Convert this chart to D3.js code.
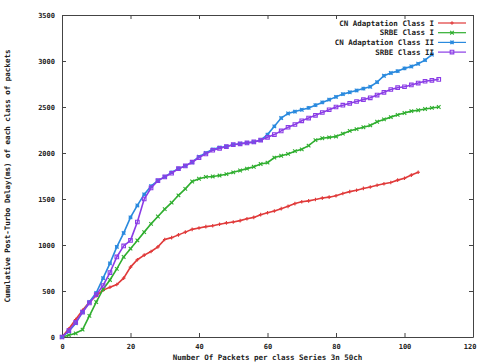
<!DOCTYPE html>
<html>
<head>
<meta charset="utf-8">
<script src="https://cdn.jsdelivr.net/npm/d3@7"></script>
<style>
  body { margin: 0; background: #fff; }
  text { font-family: "DejaVu Sans Mono", monospace; font-weight: bold; fill: #222; }
</style>
</head>
<body>
<div id="chart"></div>
<script>
// series: [x, y] pairs
const seriesNames = ['CN Adaptation Class I', 'SRBE Class I', 'CN Adaptation Class II', 'SRBE Class II'];
const seriesColors = ['#e03a3a', '#2fae2f', '#2a8ade', '#8a3ce6'];
const seriesMarkers = ['plus', 'cross', 'star', 'square'];

const xRed = d3.range(0, 105, 2);
const yRed = [0, 90, 190, 290, 380, 450, 510, 540, 570, 640, 760, 840, 890, 930, 980, 1060, 1080, 1110, 1140, 1170,
  1185, 1200, 1210, 1225, 1240, 1250, 1265, 1285, 1300, 1330, 1350, 1370, 1395, 1420, 1450, 1470, 1480, 1495, 1510,
  1520, 1535, 1560, 1580, 1595, 1615, 1630, 1650, 1665, 1680, 1705, 1725, 1760, 1790];

const xGreen = d3.range(0, 111, 2);
const yGreen = [0, 20, 40, 80, 230, 380, 520, 620, 740, 870, 960, 1050, 1140, 1230, 1310, 1390, 1460, 1540, 1610, 1690,
  1720, 1740, 1745, 1755, 1770, 1790, 1810, 1830, 1850, 1880, 1895, 1950, 1970, 1990, 2020, 2040, 2080, 2140, 2160,
  2170, 2180, 2210, 2240, 2260, 2280, 2300, 2340, 2365, 2390, 2415, 2435, 2455, 2465, 2478, 2490, 2500];

const xBlue = d3.range(0, 109, 2);
const yBlue = [0, 60, 150, 270, 380, 480, 640, 800, 980, 1130, 1300, 1430, 1550, 1640, 1700, 1740, 1790, 1830, 1860, 1900,
  1960, 2000, 2040, 2060, 2070, 2090, 2100, 2110, 2120, 2140, 2200, 2290, 2380, 2430, 2450, 2470, 2490, 2520, 2550,
  2580, 2610, 2640, 2660, 2680, 2700, 2720, 2770, 2840, 2870, 2890, 2920, 2940, 2970, 3010, 3070];

const xPurple = d3.range(0, 111, 2);
const yPurple = [0, 70, 160, 270, 370, 460, 560, 700, 870, 990, 1050, 1250, 1500, 1620, 1700, 1740, 1780, 1830, 1860, 1900,
  1950, 1990, 2030, 2050, 2070, 2090, 2100, 2110, 2120, 2140, 2170, 2200, 2240, 2280, 2310, 2350, 2380, 2410, 2440,
  2470, 2500, 2520, 2540, 2560, 2580, 2600, 2630, 2660, 2690, 2710, 2720, 2740, 2760, 2780, 2790, 2800];

const xTicks = [0, 20, 40, 60, 80, 100, 120];
const yTicks = [0, 500, 1000, 1500, 2000, 2500, 3000, 3500];

const xLabel = 'Number Of Packets per class Series 3n 50ch';
const yLabel = 'Cumulative Post-Turbo Delay(ms) of each class of packets';

const W = 477, H = 363;
const margin = { left: 62, right: 4, top: 15, bottom: 26 };

const svg = d3.select('#chart').append('svg')
    .attr('width', W).attr('height', H);

const x = d3.scaleLinear().domain([0, 120]).range([margin.left, W - margin.right]);
const y = d3.scaleLinear().domain([0, 3500]).range([H - margin.bottom, margin.top]);

// axes, gnuplot style: inward ticks, mirrored
const fmt = d3.format('d');
const xAxisG = svg.append('g').attr('transform', 'translate(0,' + y(0) + ')')
    .call(d3.axisBottom(x).tickValues(xTicks).tickFormat(fmt).tickSizeInner(-4).tickSizeOuter(0).tickPadding(7));
svg.append('g').attr('transform', 'translate(' + x(0) + ',0)')
    .call(d3.axisLeft(y).tickValues(yTicks).tickFormat(fmt).tickSizeInner(-4).tickSizeOuter(0).tickPadding(7));
svg.append('g').attr('transform', 'translate(0,' + y(3500) + ')')
    .call(d3.axisTop(x).tickValues(xTicks).tickFormat('').tickSizeInner(-4).tickSizeOuter(0));
svg.append('g').attr('transform', 'translate(' + x(120) + ',0)')
    .call(d3.axisRight(y).tickValues(yTicks).tickFormat('').tickSizeInner(-4).tickSizeOuter(0));

svg.selectAll('.domain').attr('stroke', '#444');
svg.selectAll('.tick line').attr('stroke', '#444');
svg.selectAll('.tick text').style('font-size', '7px').attr('fill', '#222');
// last x label sits at the window edge
xAxisG.selectAll('.tick text').filter(d => d === 120).attr('text-anchor', 'end').attr('dx', '3');

svg.append('text')
    .attr('x', (x(0) + x(120)) / 2).attr('y', H - 3)
    .attr('text-anchor', 'middle').style('font-size', '7.5px')
    .text(xLabel);
svg.append('text')
    .attr('transform', 'translate(10,' + ((y(0) + y(3500)) / 2) + ') rotate(-90)')
    .attr('text-anchor', 'middle').style('font-size', '7.5px')
    .text(yLabel);

function markerPath(kind, s) {
  if (kind === 'plus') return `M${-s},0H${s}M0,${-s}V${s}`;
  if (kind === 'cross') return `M${-s},${-s}L${s},${s}M${-s},${s}L${s},${-s}`;
  if (kind === 'star') return `M${-s},0H${s}M0,${-s}V${s}M${-s},${-s}L${s},${s}M${-s},${s}L${s},${-s}`;
  return `M${-s},${-s}H${s}V${s}H${-s}Z`;
}

const allSeries = [
  d3.zip(xRed, yRed),
  d3.zip(xGreen, yGreen),
  d3.zip(xBlue, yBlue),
  d3.zip(xPurple, yPurple)
];

const line = d3.line().x(d => x(d[0])).y(d => y(d[1]));
const plot = svg.append('g');

allSeries.forEach((data, i) => {
  plot.append('path')
      .datum(data)
      .attr('fill', 'none')
      .attr('stroke', seriesColors[i])
      .attr('stroke-width', 1.6)
      .attr('d', line);
  plot.selectAll('.m' + i)
      .data(data)
      .enter().append('path')
      .attr('transform', d => 'translate(' + x(d[0]) + ',' + y(d[1]) + ')')
      .attr('d', markerPath(seriesMarkers[i], 1.8))
      .attr('fill', 'none')
      .attr('stroke', seriesColors[i])
      .attr('stroke-width', 1.1);
});

// legend, top right inside the frame
const legend = svg.append('g');
seriesNames.forEach((name, i) => {
  const ly = 23 + i * 9.7;
  legend.append('text')
      .attr('x', 434).attr('y', ly + 2.5)
      .attr('text-anchor', 'end').style('font-size', '7.5px')
      .text(name);
  legend.append('line')
      .attr('x1', 438).attr('x2', 466).attr('y1', ly).attr('y2', ly)
      .attr('stroke', seriesColors[i]).attr('stroke-width', 1.2);
  legend.append('path')
      .attr('transform', 'translate(452,' + ly + ')')
      .attr('d', markerPath(seriesMarkers[i], 1.8))
      .attr('fill', 'none').attr('stroke', seriesColors[i]).attr('stroke-width', 1.1);
});
</script>
</body>
</html>
